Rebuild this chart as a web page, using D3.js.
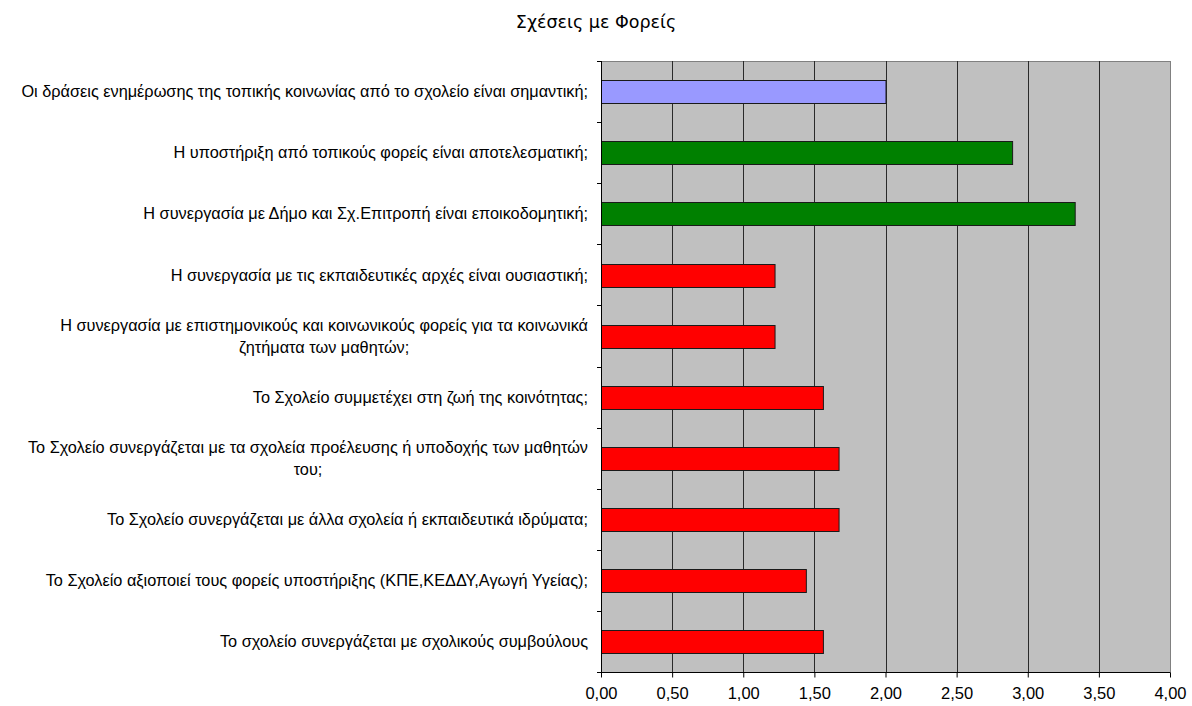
<!DOCTYPE html>
<html>
<head>
<meta charset="utf-8">
<script src="https://cdn.jsdelivr.net/npm/d3@7"></script>
<style>
  body { margin: 0; background: #fff; }
  #chart text { fill: #000; }
  .cat-label { font-family: "Liberation Sans", Arial, sans-serif; font-size: 16.3px; }
  .x-label { font-family: "Liberation Sans", Arial, sans-serif; font-size: 16.5px; }
  .title { font-family: "DejaVu Sans", Tahoma, sans-serif; font-size: 17.5px; }
</style>
</head>
<body>
<div id="chart"></div>
<script>
// Data (top to bottom)
var categories = [
  "Οι δράσεις ενημέρωσης της τοπικής κοινωνίας από το σχολείο είναι σημαντική;",
  "Η υποστήριξη από τοπικούς φορείς είναι αποτελεσματική;",
  "Η συνεργασία με Δήμο και Σχ.Επιτροπή είναι εποικοδομητική;",
  "Η συνεργασία με τις εκπαιδευτικές αρχές είναι ουσιαστική;",
  "Η συνεργασία με επιστημονικούς και κοινωνικούς φορείς για τα κοινωνικά\nζητήματα των μαθητών;",
  "Το Σχολείο συμμετέχει στη ζωή της κοινότητας;",
  "Το Σχολείο συνεργάζεται με τα σχολεία προέλευσης ή υποδοχής των μαθητών\nτου;",
  "Το Σχολείο συνεργάζεται με άλλα σχολεία ή εκπαιδευτικά ιδρύματα;",
  "Το Σχολείο αξιοποιεί τους φορείς υποστήριξης (ΚΠΕ,ΚΕΔΔΥ,Αγωγή Υγείας);",
  "Το σχολείο συνεργάζεται με σχολικούς συμβούλους"
];
var values = [2.00, 2.89, 3.33, 1.22, 1.22, 1.56, 1.67, 1.67, 1.44, 1.56];
var groups = ["blue", "green", "green", "red", "red", "red", "red", "red", "red", "red"];
var xTicks = [0, 0.5, 1, 1.5, 2, 2.5, 3, 3.5, 4];
var title = "Σχέσεις με Φορείς";

var COLORS = { blue: "#9999ff", green: "#008000", red: "#ff0000" };

var render = function() {
  var width = 1192, height = 706;
  var margins = { top: 61, right: 22, bottom: 34, left: 601 };
  var chartWidth = width - margins.left - margins.right;
  var chartHeight = height - margins.top - margins.bottom;

  var svg = d3.select("#chart")
    .append("svg")
    .attr("width", width)
    .attr("height", height);

  svg.append("text")
    .attr("class", "title")
    .attr("x", 596)
    .attr("y", 28)
    .attr("text-anchor", "middle")
    .text(title);

  var chartElement = svg.append("g")
    .attr("transform", `translate(${margins.left},${margins.top})`);

  var xScale = d3.scaleLinear().domain([0, 4]).range([0, chartWidth]);
  var yScale = d3.scaleBand().domain(categories).range([0, chartHeight]).padding(0);

  // plot background
  chartElement.append("rect")
    .attr("width", chartWidth)
    .attr("height", chartHeight)
    .attr("fill", "#c0c0c0")
    .attr("stroke", "#808080")
    .attr("shape-rendering", "crispEdges");

  // grid
  chartElement.append("g")
    .selectAll("line")
    .data(xTicks.slice(1, -1))
    .enter()
    .append("line")
    .attr("x1", d => Math.round(xScale(d)) + 0.5)
    .attr("x2", d => Math.round(xScale(d)) + 0.5)
    .attr("y1", 0)
    .attr("y2", chartHeight)
    .attr("stroke", "#2a2a2a");

  // bars
  var barH = yScale.bandwidth() * 0.37;
  chartElement.append("g")
    .selectAll("rect")
    .data(categories)
    .enter()
    .append("rect")
    .attr("x", 0.5)
    .attr("y", d => Math.round(yScale(d) + (yScale.bandwidth() - barH) / 2) + 0.5)
    .attr("width", (d, i) => xScale(values[i]))
    .attr("height", Math.round(barH))
    .attr("fill", (d, i) => COLORS[groups[i]])
    .attr("stroke", "#1a1a1a")
    .attr("stroke-width", 1);

  // x axis
  var xAxis = d3.axisBottom(xScale)
    .tickValues(xTicks)
    .tickSize(5)
    .tickSizeOuter(0)
    .tickFormat(d => d3.format(".2f")(d).replace(".", ","));

  var xg = chartElement.append("g")
    .attr("transform", `translate(0,${chartHeight + 0.5})`)
    .call(xAxis);
  xg.select(".domain").attr("stroke", "#000").attr("d", `M-4,0H${chartWidth}`);
  xg.selectAll(".tick line").attr("stroke", "#000");
  xg.selectAll(".tick text")
    .attr("class", "x-label")
    .attr("font-family", null)
    .attr("font-size", null)
    .attr("y", 12)
    .attr("dy", "0.9em");

  // y axis line + ticks at band boundaries
  var yg = chartElement.append("g");
  yg.append("line")
    .attr("x1", 0.5).attr("x2", 0.5)
    .attr("y1", 0).attr("y2", chartHeight)
    .attr("stroke", "#000");
  yg.selectAll("line.tick")
    .data(categories)
    .enter()
    .append("line")
    .attr("class", "tick")
    .attr("x1", -4).attr("x2", 0.5)
    .attr("y1", d => Math.round(yScale(d)) + 0.5)
    .attr("y2", d => Math.round(yScale(d)) + 0.5)
    .attr("stroke", "#000");

  // category labels: block right-aligned, lines centered within block
  var lineH = 22;
  categories.forEach(function(cat) {
    var lines = cat.split("\n");
    var cy = yScale(cat) + yScale.bandwidth() / 2;
    var g = chartElement.append("g");
    var texts = lines.map(function(l, j) {
      return g.append("text")
        .attr("class", "cat-label")
        .attr("y", cy + (j - (lines.length - 1) / 2) * lineH)
        .attr("dy", "0.35em")
        .text(l);
    });
    var maxW = d3.max(texts, t => t.node().getComputedTextLength());
    var center = -13 - maxW / 2;
    texts.forEach(t => t.attr("x", center).attr("text-anchor", "middle"));
  });
};

window.onload = render;
</script>
</body>
</html>
